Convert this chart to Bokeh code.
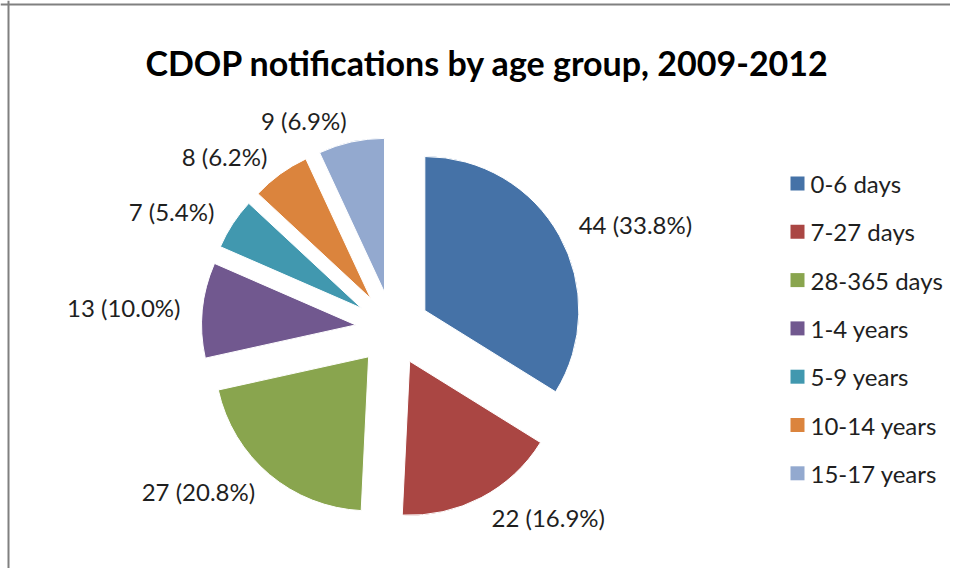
import math
from bokeh.plotting import figure
from bokeh.models import Range1d, ColumnDataSource, Span
from bokeh.core.properties import value
from bokeh.embed import file_html
from bokeh.resources import INLINE

title = "CDOP notifications by age group, 2009-2012"
categories = ["0-6 days", "7-27 days", "28-365 days", "1-4 years",
              "5-9 years", "10-14 years", "15-17 years"]
counts = [44, 22, 27, 13, 7, 8, 9]
colors = ["#4572A7", "#AA4643", "#89A54E", "#71588F", "#4198AF", "#DB843D", "#93A9CF"]

W, H = 950, 568
FONT = "Lato"
TXT = "#1f1f1f"

p = figure(width=W, height=H, x_range=Range1d(0, W), y_range=Range1d(0, H),
           output_backend="svg", toolbar_location=None, min_border=0,
           x_axis_type=None, y_axis_type=None)
p.grid.visible = False
p.outline_line_color = None
p.background_fill_color = "white"

# pie geometry (pixels; y measured from the bottom of the canvas)
cx, cy = 392, H - 328
R = 154
explode = 37
lab_r = R + explode + 22

total = sum(counts)
wx, wy, starts, ends = [], [], [], []
left_lab = dict(x=[], y=[], t=[])
right_lab = dict(x=[], y=[], t=[])
cum = 0.0
for v in counts:
    a1 = cum / total * 2 * math.pi          # clockwise from 12 o'clock
    cum += v
    a2 = cum / total * 2 * math.pi
    b = (a1 + a2) / 2
    dx, dy = math.sin(b), math.cos(b)
    wx.append(cx + explode * dx)
    wy.append(cy + explode * dy)
    starts.append(math.pi / 2 - a2)
    ends.append(math.pi / 2 - a1)
    txt = f"{v} ({v / total * 100:.1f}%)"
    lx, ly = cx + lab_r * dx, cy + lab_r * dy
    tgt = left_lab if dx > 0 else right_lab
    tgt["x"].append(lx); tgt["y"].append(ly); tgt["t"].append(txt)

src = ColumnDataSource(dict(x=wx, y=wy, s=starts, e=ends, c=colors, cat=categories))
p.wedge(x="x", y="y", radius=R, start_angle="s", end_angle="e", fill_color="c",
        line_color="white", line_width=1, source=src)

p.text(x="x", y="y", text="t", source=ColumnDataSource(left_lab), text_font=value(FONT),
       text_font_size="24px", text_align="left", text_baseline="middle", text_color=TXT)
p.text(x="x", y="y", text="t", source=ColumnDataSource(right_lab), text_font=value(FONT),
       text_font_size="24px", text_align="right", text_baseline="middle", text_color=TXT)

# legend
leg_top = H - 183
leg_step = 48.3
ly = [leg_top - i * leg_step for i in range(len(categories))]
p.scatter(x=[797] * len(categories), y=ly, marker="square", size=14,
          fill_color=colors, line_color=None)
p.text(x=[810] * len(categories), y=ly, text=categories, text_font=value(FONT),
       text_font_size="24px", text_align="left", text_baseline="middle", text_color=TXT)

# title
p.text(x=[487], y=[H - 62], text=[title], text_font=value(FONT), text_font_size="34px",
       text_font_style="bold", text_align="center", text_baseline="alphabetic",
       text_color="black")

# chart border (top and left)
p.add_layout(Span(location=H - 4, dimension="width", line_color="#808080", line_width=2))
p.add_layout(Span(location=8, dimension="height", line_color="#808080", line_width=2))

open("out.html", "w").write(file_html(p, INLINE))
